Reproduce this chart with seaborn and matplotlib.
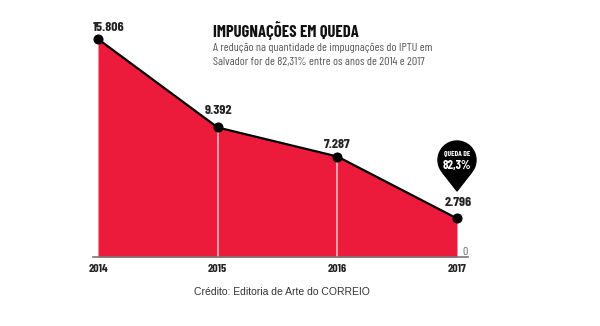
import matplotlib
matplotlib.use("Agg")
import matplotlib.pyplot as plt
import seaborn as sns
import pandas as pd
from matplotlib.patches import Circle, Polygon

years = [2014, 2015, 2016, 2017]
values = [15806, 9392, 7287, 2796]
value_labels = ["15.806", "9.392", "7.287", "2.796"]
title = "IMPUGNAÇÕES EM QUEDA"
subtitle = "A redução na quantidade de impugnações do IPTU em\nSalvador for de 82,31% entre os anos de 2014 e 2017"
credit = "Crédito: Editoria de Arte do CORREIO"

sns.set_theme(style="white")
plt.rcParams['font.family'] = ['Barlow Condensed', 'DejaVu Sans']

df = pd.DataFrame({"ano": years, "valor": values})
RED = "#EC1B3B"

fig = plt.figure(figsize=(6, 3.26), dpi=100)
fig.patch.set_facecolor("white")
ax = fig.add_axes([93/600, (326-257)/326, 375/600, 227/326])
ax.fill_between(df["ano"], df["valor"], 0, color=RED, lw=0)
for x, v in zip(years[1:-1], values[1:-1]):
    ax.plot([x, x], [0, v], color="#f7b7c0", lw=1.2)
sns.lineplot(data=df, x="ano", y="valor", ax=ax, color="black", lw=1.6,
             marker="o", markersize=6.5, markeredgecolor="black")
ax.set_xlim(2014 - 5/119.67, 2017 + 11/119.67)
ax.set_ylim(0, 16461)
for s in ["top", "right", "left"]:
    ax.spines[s].set_visible(False)
ax.spines["bottom"].set_color("#777777")
ax.spines["bottom"].set_linewidth(1.2)
ax.set_xticks(years)
ax.set_xticklabels([str(y) for y in years], fontsize=8.5, fontweight="bold", color="#222222")
ax.tick_params(axis="x", length=0, pad=5)
ax.set_yticks([])
ax.set_xlabel("")
ax.set_ylabel("")
offsets = [(11, 8), (1, 13), (0, 9), (1, 12)]
for x, v, lab, (dx, dy) in zip(years, values, value_labels, offsets):
    ax.annotate(lab, (x, v), xytext=(dx, dy), textcoords="offset pixels",
                ha="center", va="baseline", fontsize=10, fontweight="bold", color="#222222")
ax.text(2017 + 8/119.67, 0, "0", ha="center", va="bottom", fontsize=8.5, color="#666666",
        transform=ax.transData)

# pin
cx, cy, r = 457, 326-160, 19
fig.patches.append(Circle((cx, cy), r, transform=None, color="black", figure=fig))
fig.patches.append(Polygon([(cx-14, cy-13), (cx+14, cy-13), (cx, cy-31)], closed=True,
                           transform=None, color="black", figure=fig))
fig.text(cx/600, (cy+6)/326, "QUEDA DE", ha="center", va="center", color="white",
         fontsize=5.5, fontweight="bold")
fig.text(cx/600, (cy-5)/326, "82,3%", ha="center", va="center", color="white",
         fontsize=9, fontweight="bold")

fig.text(213/600, 1-30/326, title, ha="left", va="center", fontsize=12, fontweight="bold",
         color="#111111")
fig.text(213/600, 1-55/326, subtitle, ha="left", va="center", fontsize=8.6, color="#555555",
         linespacing=1.5)
fig.text(282/600, 1-292/326, credit, ha="center", va="center", fontsize=7.5,
         color="#333333", family=["Liberation Sans", "DejaVu Sans"])

fig.savefig("out.png", dpi=100, facecolor="white")
